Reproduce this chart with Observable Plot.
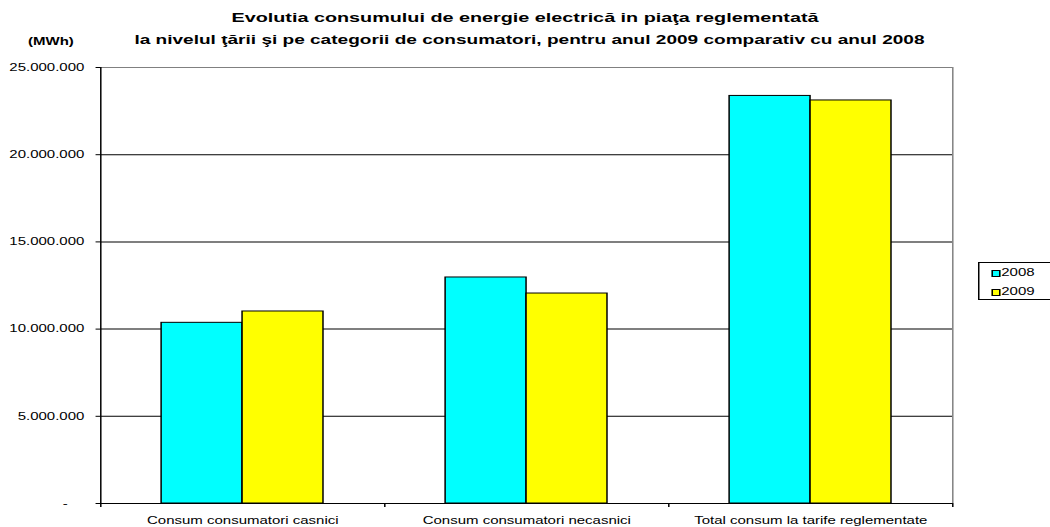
<!DOCTYPE html>
<html>
<head>
<meta charset="utf-8">
<script src="https://cdn.jsdelivr.net/npm/d3@7"></script>
<script src="https://cdn.jsdelivr.net/npm/@observablehq/plot@0.6"></script>
<style>
  html, body { margin: 0; padding: 0; background: #fff; overflow: hidden; width: 1050px; height: 527px; }
  #wrap { position: relative; width: 700px; height: 527px; transform: scaleX(1.5); transform-origin: 0 0; font-family: 'Liberation Sans', Arial, sans-serif; color: #000; }
  .title { position: absolute; left: 0; width: 700px; text-align: center; font-weight: bold; font-size: 13px; line-height: 16px; white-space: nowrap; }
  #unit { position: absolute; left: 18.7px; top: 36px; font-weight: bold; font-size: 10px; line-height: 12px; }
  #chart { position: absolute; left: 0; top: 52px; }
  #legend { position: absolute; left: 652px; top: 262px; width: 70px; height: 38px; border: 1px solid #000; box-sizing: border-box; background: #fff; font-size: 10px; }
  .item { position: absolute; left: 8px; height: 12px; line-height: 12px; white-space: nowrap; }
  .sw { display: inline-block; width: 5.5px; height: 7px; border: 1px solid #000; box-sizing: border-box; vertical-align: -0.5px; margin-right: 1px; }
</style>
</head>
<body>
<div id="wrap">
  <div class="title" style="top:10px;font-size:13.2px">Evolutia consumului de energie electrică in piaţa reglementată</div>
  <div class="title" style="top:32px;font-size:12.7px;left:3px">la nivelul ţării şi pe categorii de consumatori, pentru anul 2009 comparativ cu anul 2008</div>
  <div id="unit">(MWh)</div>
  <div id="chart"></div>
  <div id="legend"></div>
</div>
<script>
const categories = ["Consum consumatori casnici", "Consum consumatori necasnici", "Total consum la tarife reglementate"];
const years = ["2008", "2009"];
const values2008 = [10360000, 12960000, 23370000];
const values2009 = [11010000, 12040000, 23110000];
const colors = ["#00FFFF", "#FFFF00"];
const yTicks = [0, 5000000, 10000000, 15000000, 20000000, 25000000];

const rows = [];
categories.forEach((c, i) => {
  rows.push({cat: c, i, year: years[0], value: values2008[i]});
  rows.push({cat: c, i, year: years[1], value: values2009[i]});
});

const fmt = d3.formatLocale({decimal: ",", thousands: ".", grouping: [3], currency: ["", ""]}).format(",.0f");
const barW = 0.285;

const chart = Plot.plot({
  width: 700,
  height: 475,
  marginTop: 15,
  marginBottom: 24,
  marginLeft: 66.7,
  marginRight: 65.3,
  style: {fontFamily: "'Liberation Sans', Arial, sans-serif", fontSize: "10px", color: "#000", background: "transparent", overflow: "visible"},
  x: {domain: [0, categories.length]},
  y: {domain: [0, 25000000]},
  color: {domain: years, range: colors},
  marks: [
    Plot.ruleY(yTicks.filter(t => t > 0 && t < 25000000), {stroke: "#000", strokeWidth: 1}),
    Plot.ruleY([25000000], {stroke: "#808080", strokeWidth: 1}),
    Plot.ruleX([categories.length], {stroke: "#808080", strokeWidth: 1}),
    Plot.rectY(rows, {
      x1: d => d.year === years[0] ? d.i + 0.5 - barW : d.i + 0.5,
      x2: d => d.year === years[0] ? d.i + 0.5 : d.i + 0.5 + barW,
      y: "value",
      fill: "year",
      stroke: "#000",
      strokeWidth: 1
    }),
    Plot.ruleX([0], {stroke: "#000", strokeWidth: 1}),
    Plot.ruleY([0], {stroke: "#000", strokeWidth: 1}),
    Plot.axisY({ticks: yTicks, tickSize: 3, tickPadding: 8, label: null,
      tickFormat: t => t === 0 ? "-\u00a0\u00a0\u00a0\u00a0" : fmt(t)}),
    Plot.axisX({ticks: d3.range(categories.length + 1), tickSize: 4, tickFormat: () => "", label: null}),
    Plot.axisX({ticks: categories.map((c, i) => i + 0.5), tickSize: 0, tickPadding: 13, label: null,
      tickFormat: t => categories[Math.floor(t)]})
  ]
});
document.getElementById("chart").appendChild(chart);

const legend = document.getElementById("legend");
years.forEach((y, k) => {
  const it = document.createElement("div");
  it.className = "item";
  it.style.top = (4 + k * 19) + "px";
  it.innerHTML = `<span class="sw" style="background:${colors[k]}"></span>${y}`;
  legend.appendChild(it);
});
</script>
</body>
</html>
